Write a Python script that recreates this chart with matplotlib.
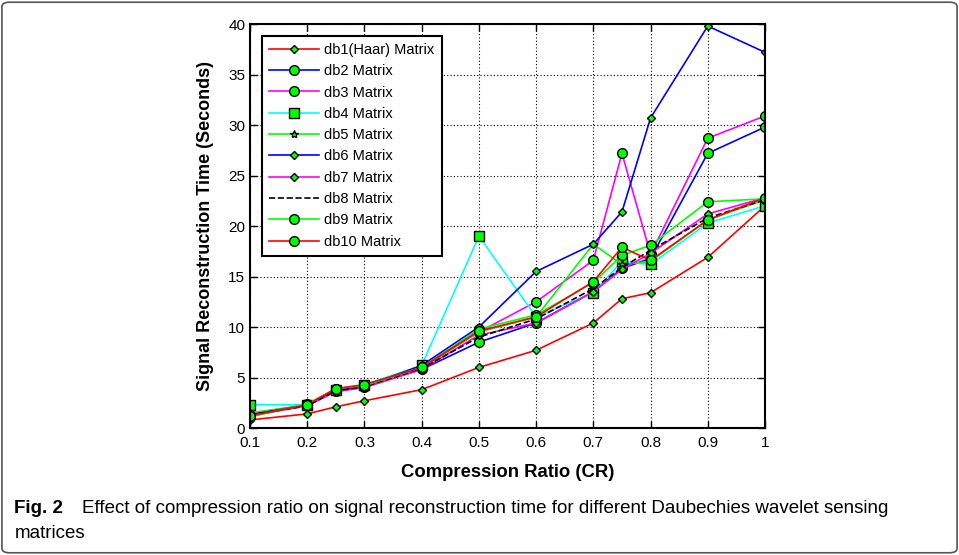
import matplotlib
matplotlib.use("Agg")
import matplotlib.pyplot as plt
from matplotlib.patches import FancyBboxPatch

plt.rcParams['font.family'] = ['Liberation Sans', 'DejaVu Sans']

cr = [0.1, 0.2, 0.25, 0.3, 0.4, 0.5, 0.6, 0.7, 0.75, 0.8, 0.9, 1.0]

db1 = [0.8, 1.4, 2.1, 2.7, 3.8, 6.0, 7.7, 10.4, 12.8, 13.4, 16.9, 22.0]
db2 = [1.3, 2.3, 3.7, 4.1, 5.8, 8.5, 10.4, 13.5, 15.8, 16.8, 27.2, 29.8]
db3 = [1.4, 2.3, 3.8, 4.2, 6.0, 9.5, 12.5, 16.6, 27.2, 17.2, 28.7, 30.9]
db4 = [2.3, 2.3, 3.8, 4.3, 6.2, 19.0, 11.0, 13.4, 16.5, 16.2, 20.3, 22.0]
db5 = [1.5, 2.3, 3.7, 4.1, 6.0, 9.5, 11.0, 18.2, 16.2, 16.5, 20.6, 22.6]
db6 = [1.3, 2.3, 3.7, 4.1, 6.2, 10.0, 15.5, 18.2, 21.4, 30.7, 39.8, 37.2]
db7 = [1.2, 2.2, 3.6, 4.0, 5.8, 9.2, 10.4, 13.5, 15.7, 17.3, 21.2, 22.8]
db8 = [1.3, 2.2, 3.7, 4.1, 5.9, 9.0, 10.8, 13.8, 15.9, 17.6, 20.8, 22.6]
db9 = [1.1, 2.4, 3.9, 4.2, 6.0, 9.8, 11.2, 14.4, 17.1, 18.1, 22.4, 22.7]
db10 = [1.2, 2.3, 3.9, 4.3, 6.0, 9.6, 11.0, 14.5, 17.9, 16.6, 20.6, 22.8]

labels = ['db1(Haar) Matrix', 'db2 Matrix', 'db3 Matrix', 'db4 Matrix', 'db5 Matrix',
          'db6 Matrix', 'db7 Matrix', 'db8 Matrix', 'db9 Matrix', 'db10 Matrix']
series = [db1, db2, db3, db4, db5, db6, db7, db8, db9, db10]
colors = ['#ff0000', '#0000ff', '#ff00ff', '#00ffff', '#00ff00',
          '#0000ff', '#ff00ff', 'black', '#00ff00', '#ff0000']
markers = ['D', 'o', 'o', 's', '*', 'D', 'D', None, 'o', 'o']
msizes = [4.5, 7, 7, 7, 6, 4.5, 4.5, 0, 7, 7]
styles = ['-', '-', '-', '-', '-', '-', '-', '--', '-', '-']

fig = plt.figure(figsize=(9.59, 5.55), dpi=100)
ax = fig.add_axes([0.2607, 0.2288, 0.5370, 0.7279])

for y, lab, c, m, ms, ls in zip(series, labels, colors, markers, msizes, styles):
    if m is None:
        ax.plot(cr, y, ls, color=c, linewidth=1.2, label=lab)
    else:
        ax.plot(cr, y, ls, color=c, linewidth=1.2, marker=m, markersize=ms,
                markerfacecolor='#00ff00', markeredgecolor='black',
                markeredgewidth=1.0, label=lab)

ax.set_xlim(0.1, 1)
ax.set_ylim(0, 40)
ax.set_xticks([0.1, 0.2, 0.3, 0.4, 0.5, 0.6, 0.7, 0.8, 0.9, 1.0])
ax.set_xticklabels(['0.1', '0.2', '0.3', '0.4', '0.5', '0.6', '0.7', '0.8', '0.9', '1'])
ax.set_yticks(range(0, 41, 5))
ax.grid(True, color='black', linestyle=(0, (1, 2)), linewidth=0.8)
ax.tick_params(direction='in', top=True, right=True, labelsize=11, length=5, width=1)
ax.tick_params(axis='x', pad=6)
for s in ax.spines.values():
    s.set_linewidth(1.5)

ax.set_xlabel('Compression Ratio (CR)', fontsize=13.3, fontweight='bold', labelpad=10)
ax.set_ylabel('Signal Reconstruction Time (Seconds)', fontsize=13, fontweight='bold', labelpad=10)

leg = ax.legend(loc='upper left', bbox_to_anchor=(0.0, 1.0), fontsize=10.5,
                handlelength=3.4, handletextpad=0.4, labelspacing=0.5, borderpad=0.5,
                borderaxespad=0.8, fancybox=False, framealpha=1)
leg.get_frame().set_edgecolor('black')
leg.get_frame().set_linewidth(1.5)

# caption
fig.text(0.015, 0.076, 'Fig. 2', fontsize=13.5, fontweight='bold')
fig.text(0.085, 0.076,
         'Effect of compression ratio on signal reconstruction time for different Daubechies wavelet sensing',
         fontsize=13.5)
fig.text(0.015, 0.03, 'matrices', fontsize=13.5)

frame = FancyBboxPatch((0.002, 0.004), 0.996, 0.992, boxstyle='round,pad=0,rounding_size=0.008',
                       transform=fig.transFigure, fill=False, edgecolor='#555555', linewidth=1.2)
fig.patches.append(frame)

fig.savefig('out.png', dpi=100)
